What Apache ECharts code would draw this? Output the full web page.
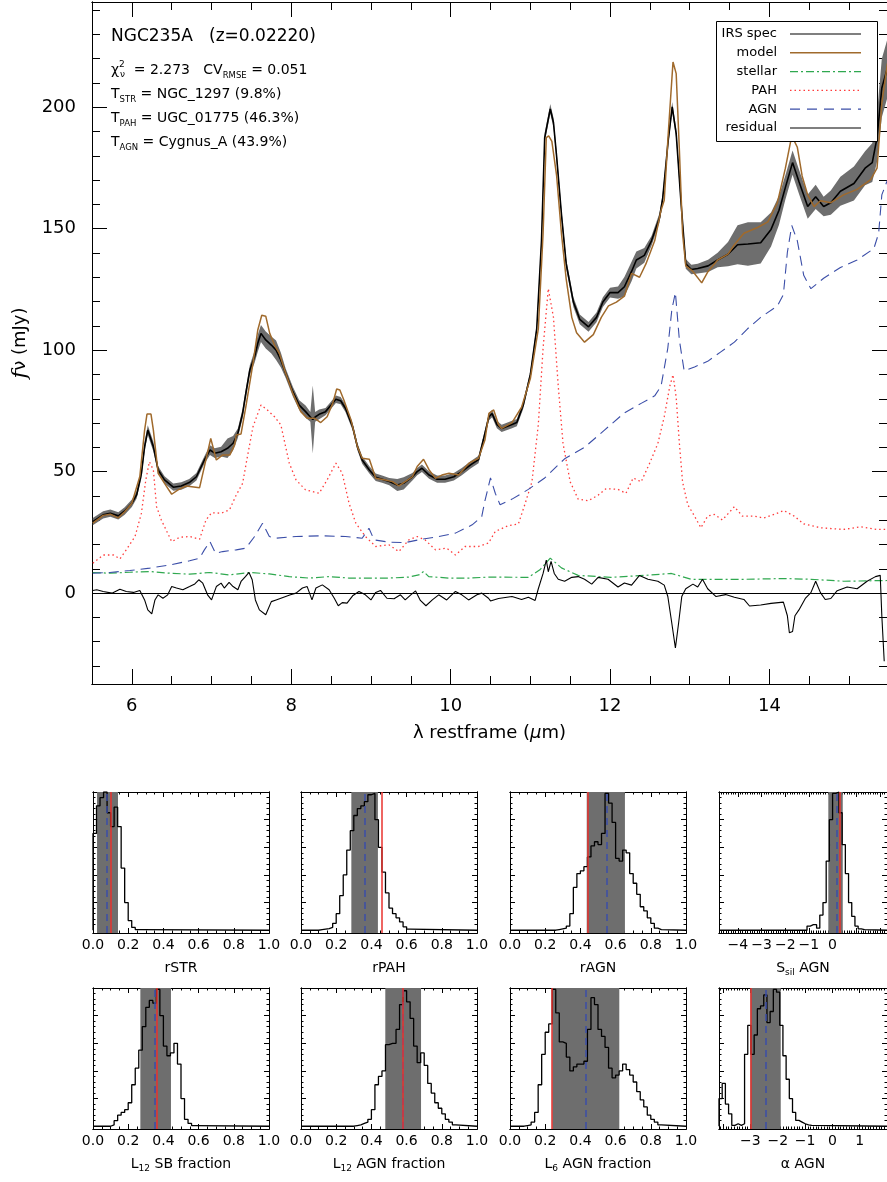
<!DOCTYPE html>
<html>
<head>
<meta charset="utf-8">
<title>NGC235A decomposition</title>
<script src="https://cdn.jsdelivr.net/npm/echarts@6/dist/echarts.min.js"></script>
<style>
  html, body { margin: 0; padding: 0; background: #fff; }
  #chart { width: 887px; height: 1182px; }
</style>
</head>
<body>
<div id="chart"></div>
<script>
// ---- IRS spectrum, restframe micron / mJy ----
var specLam = [5.51,5.64,5.73,5.83,5.91,6.00,6.06,6.12,6.16,6.20,
  6.27,6.33,6.41,6.52,6.62,6.72,6.81,6.91,6.98,7.04,
  7.12,7.20,7.27,7.33,7.39,7.43,7.48,7.54,7.58,7.62,
  7.68,7.75,7.81,7.87,7.93,8.02,8.10,8.18,8.24,8.27,8.30,8.35,
  8.43,8.50,8.56,8.62,8.68,8.77,8.83,8.89,8.98,9.06,
  9.14,9.23,9.33,9.41,9.52,9.58,9.64,9.73,9.83,9.93,
  10.04,10.14,10.25,10.35,10.41,10.48,10.52,10.58,10.64,10.77,
  10.83,10.91,11.00,11.08,11.14,11.18,11.25,11.29,11.33,11.39,
  11.45,11.54,11.62,11.73,11.83,11.91,12.00,12.10,12.18,12.27,
  12.33,12.43,12.52,12.62,12.66,12.73,12.78,12.83,12.89,12.95,
  13.02,13.10,13.23,13.35,13.48,13.60,13.73,13.89,14.02,14.12,
  14.20,14.29,14.37,14.48,14.58,14.68,14.77,14.89,15.06,15.20,
  15.29,15.35,15.41,15.48];
var specFlux = [29.4,32.2,32.9,31.8,33.8,37.0,40.4,49.3,60.3,67.1,
  60.3,50.7,46.6,43.6,44.1,45.5,47.9,54.8,58.9,57.6,
  58.2,59.6,61.7,65.8,74.0,82.2,91.8,97.3,102.8,106.9,
  104.2,102.1,100.0,95.9,90.5,82.9,77.4,74.7,72.5,71.5,72.5,73.6,
  74.7,77.4,79.8,79.2,76.1,68.5,60.3,54.8,50.7,47.7,
  46.9,45.9,44.5,45.2,47.9,50.0,51.4,48.6,46.9,46.9,
  47.9,50.0,52.8,55.0,63.0,72.6,73.9,69.4,67.8,69.4,
  70.2,77.3,89.9,108.8,145.0,187.5,199.3,193.7,179.6,156.0,
  135.5,119.8,112.7,109.6,113.5,119.8,123.7,123.7,126.1,132.4,
  137.1,139.0,145.0,154.4,162.3,186.4,200.1,189.1,161.0,135.5,
  133.2,133.6,134.7,137.1,139.5,143.4,143.7,144.2,149.7,157.6,
  167.0,177.2,169.4,159.1,163.1,159.1,160.7,165.4,168.6,174.9,
  177.2,187.5,207.9,216.0];
var specErr = [1.5,1.5,1.5,1.5,1.5,1.5,1.5,2,2,2,
  2,1.5,1.5,1.5,1.5,1.5,1.5,1.5,2,2,
  2,4,3,2,2,2,2,2.5,3.5,3.5,
  3.5,3.5,4,3,2,2,2,2.5,2,14,2,2,
  1.5,1.5,1.5,1.5,1.5,1.5,1.5,1.5,1.5,1.5,
  1.5,1.5,2.5,2.5,1.5,1.5,1.5,1.5,1.5,1.5,
  1.5,1.5,1.5,1.5,1.5,1.5,1.5,1.5,1.5,1.5,
  1.5,1.5,1.5,1.5,2,2,2,2,2,2,
  2,2,2,2,2,2,2,2.5,4,4,
  3.5,3,2,2,2,2,2,2,2,2,
  2,2,2.5,3,5,8,9,8.5,7,6,
  5,5,5,5,5,4,5,6,7,7,
  8,10,12,12];

// ---- best fit model and its components ----
var modelLam = [5.51,5.64,5.73,5.83,5.91,6.00,6.10,6.16,6.19,6.24,6.27,6.33,6.41,6.50,6.58,6.68,6.85,6.91,6.99,7.06,
  7.14,7.23,7.29,7.31,7.37,7.43,7.52,7.58,7.63,7.68,7.73,7.79,7.85,7.93,8.02,8.12,8.20,8.29,8.37,8.45,
  8.52,8.57,8.61,8.66,8.75,8.83,8.89,8.98,9.06,9.18,9.27,9.35,9.43,9.52,9.58,9.66,9.73,9.81,9.89,9.98,
  10.10,10.23,10.35,10.43,10.48,10.54,10.60,10.64,10.77,10.89,11.00,11.10,11.16,11.20,11.23,11.27,11.33,11.39,11.45,11.52,
  11.58,11.68,11.79,11.89,11.98,12.08,12.18,12.27,12.37,12.45,12.56,12.64,12.68,12.73,12.79,12.83,12.87,12.91,12.95,13.04,
  13.15,13.23,13.35,13.48,13.56,13.68,13.85,13.98,14.10,14.20,14.28,14.35,14.41,14.48,14.56,14.64,14.77,14.93,15.10,15.27,
  15.35,15.41,15.48];
var modelFlux = [28.8,32.0,32.5,31.0,33.5,37.0,48.0,67.1,73.7,73.7,67.1,49.3,45.2,40.7,42.5,44.1,43.4,52.1,63.7,54.8,
  56.9,56.9,61.0,65.1,65.5,76.7,94.6,108.3,114.4,114.0,106.9,102.1,98.7,90.5,82.2,74.7,72.0,72.0,70.2,72.6,
  78.1,84.0,83.6,79.5,71.3,60.3,55.5,55.1,47.3,46.6,45.9,44.1,45.9,47.9,52.1,55.1,50.7,47.3,48.6,49.3,
  48.6,53.5,55.5,63.0,74.0,75.4,69.4,67.8,70.2,76.5,88.3,108.8,148.1,187.5,188.2,185.9,171.7,148.1,129.2,113.5,
  107.2,103.3,106.4,113.5,118.2,119.8,122.2,131.6,130.0,135.5,145.0,157.6,161.7,189.1,218.6,213.8,182.3,148.0,134.7,132.4,
  127.7,132.4,137.1,139.5,143.4,148.1,150.5,152.8,160.7,174.9,188.2,183.5,171.7,163.9,159.1,161.5,160.7,163.9,166.2,170.2,
  174.9,201.6,218.0];

var stellarLam = [5.51,5.725,5.975,6.225,6.475,6.725,6.975,7.225,7.475,7.725,7.975,8.225,8.475,8.725,8.975,9.225,9.475,9.60,9.66,9.725,
  9.975,10.225,10.475,10.975,11.12,11.25,11.39,11.60,12.01,12.43,12.77,13.02,13.68,14.18,14.52,14.93,15.48];
var stellarFlux = [8.5,8.2,8.6,8.9,8.2,7.8,8.5,7.5,8.5,7.9,6.8,6.2,6.8,6.2,6.2,6.2,6.6,7.5,8.9,6.8,
  6.2,6.2,6.6,6.5,9.6,14.4,10.4,7.3,6.5,7.3,8.1,5.7,5.7,6.0,5.7,4.9,5.2];

var pahLam = [5.51,5.64,5.77,5.85,5.93,6.04,6.12,6.175,6.22,6.27,6.31,6.37,6.50,6.60,6.725,6.85,6.93,7.00,7.12,7.225,
  7.31,7.39,7.45,7.52,7.62,7.70,7.79,7.87,7.975,8.06,8.18,8.35,8.45,8.56,8.64,8.725,8.81,8.93,9.06,9.225,
  9.35,9.475,9.58,9.68,9.81,9.95,10.06,10.18,10.35,10.475,10.56,10.725,10.85,10.93,11.02,11.10,11.16,11.225,11.29,11.35,
  11.41,11.50,11.60,11.725,11.85,11.95,12.10,12.20,12.29,12.39,12.50,12.60,12.68,12.75,12.79,12.83,12.87,12.91,12.975,13.06,
  13.14,13.225,13.31,13.41,13.56,13.66,13.81,13.93,14.06,14.18,14.31,14.43,14.64,14.93,15.14,15.35,15.48];
var pahFlux = [12.3,15.7,15.7,14.1,17.8,23.3,32.9,46.6,54.1,50.7,35.6,30.1,21.2,23.0,23.3,22.2,30.1,33.1,32.9,34.3,
  40.4,45.2,56.2,68.5,77.4,75.4,72.6,69.2,53.5,46.6,42.5,41.1,46.6,53.5,49.3,37.0,28.8,23.3,19.2,19.9,
  17.1,21.9,23.3,21.9,17.8,18.5,15.7,19.2,19.2,20.6,25.4,27.8,28.5,36.4,45.8,69.4,100.9,125.3,113.5,85.2,
  61.6,45.8,38.7,38.0,40.3,43.0,42.7,41.1,47.4,45.8,53.7,61.6,72.6,85.2,89.9,80.5,61.6,45.8,36.4,31.7,
  26.9,31.7,32.4,30.1,35.6,31.7,31.7,30.9,32.4,34.0,31.7,28.5,26.9,26.2,27.3,26.2,26.2];

var agnLam = [5.51,5.725,5.975,6.225,6.475,6.725,6.85,6.91,6.98,7.05,7.14,7.31,7.43,7.54,7.64,7.725,7.81,8.06,8.39,8.68,
  8.89,8.975,9.04,9.225,9.43,9.64,9.85,10.06,10.27,10.39,10.43,10.50,10.56,10.62,10.77,10.975,11.18,11.43,11.68,11.93,
  12.18,12.39,12.56,12.64,12.725,12.775,12.82,12.87,12.93,13.06,13.225,13.39,13.56,13.725,13.89,14.10,14.175,14.225,14.28,14.35,
  14.43,14.52,14.68,14.89,15.10,15.31,15.37,15.41,15.48];
var agnFlux = [8.2,8.5,9.3,10.3,11.6,13.3,14.4,17.8,21.2,16.4,17.1,17.8,18.5,23.3,28.8,23.3,22.6,23.3,23.6,23.3,
  22.6,26.7,21.9,21.0,20.8,22.2,23.3,24.7,28.1,31.5,38.0,47.4,41.1,36.4,38.7,42.7,47.4,55.3,60.0,67.1,
  74.2,78.1,81.2,85.2,100.9,116.6,123.7,104.1,91.5,93.1,95.4,99.3,103.3,108.8,113.5,118.2,122.9,140.3,151.3,145.0,
  130.8,125.3,129.6,134.0,137.1,141.8,148.1,163.9,170.0];

var resLam = [5.51,5.56,5.64,5.75,5.85,5.93,6.02,6.10,6.16,6.20,6.25,6.29,6.33,6.39,6.45,6.50,6.56,6.64,6.725,6.79,
  6.84,6.89,6.95,7.00,7.06,7.12,7.16,7.22,7.27,7.33,7.37,7.425,7.47,7.51,7.55,7.60,7.68,7.75,7.81,7.87,
  7.93,7.99,8.06,8.14,8.20,8.26,8.31,8.39,8.475,8.54,8.59,8.64,8.70,8.77,8.85,8.93,9.00,9.06,9.12,9.20,
  9.29,9.37,9.43,9.50,9.56,9.62,9.69,9.77,9.85,9.95,10.06,10.14,10.225,10.33,10.39,10.475,10.50,10.60,10.77,10.89,
  10.975,11.06,11.10,11.16,11.20,11.225,11.26,11.30,11.35,11.43,11.52,11.60,11.68,11.77,11.85,11.975,12.10,12.18,12.27,12.37,
  12.475,12.60,12.68,12.725,12.775,12.82,12.86,12.90,12.95,13.04,13.10,13.16,13.225,13.33,13.45,13.56,13.68,13.75,13.89,14.02,
  14.175,14.225,14.25,14.29,14.32,14.37,14.45,14.52,14.58,14.64,14.70,14.77,14.85,14.975,15.10,15.225,15.33,15.39,15.41,15.44];
var resFlux = [1.1,1.4,0.7,0,1.6,0.7,0.3,1.1,-2.8,-6.9,-8.5,-2.8,-0.7,-2.1,-0.7,2.7,2.1,1.4,2.7,3.8,
  5.5,4.1,-0.7,-2.8,2.7,4.1,2.1,4.4,2.7,1.4,4.8,6.8,8.5,5.5,-2.8,-6.9,-8.9,-3.5,-2.8,-2.1,
  -1.4,-0.7,0,2.1,2.7,-2.8,2.1,3.4,1.4,-2.1,-5.2,-3.9,-4.1,-1.1,0.7,-0.7,-2.8,0.3,1.1,-2.1,
  -2.3,-0.7,-2.8,-0.7,0.9,-3.0,-5.2,-2.8,-0.7,-2.8,0.7,-0.7,-2.8,-0.7,0,-2.1,-3.2,-2.2,-1.4,-2.6,
  -1.7,-3.0,1.8,8.1,13.6,8.8,13.1,8.1,5.7,4.9,6.5,6.8,5.7,3.7,6.5,5.7,2.5,4.2,3.3,7.3,
  5.7,4.9,3.3,-1.4,-12.4,-22.6,-12.4,-1.4,1.8,3.7,2.5,5.7,1.8,-1.4,-0.6,-1.7,-2.6,-5.3,-4.9,-4.2,
  -3.7,-9.3,-16.3,-15.8,-9.3,-6.9,-2.2,0.2,4.9,0.2,-2.6,-2.2,1.0,2.5,1.8,4.9,6.8,7.3,-9.3,-28.0];

var xTickLabels = [6, 8, 10, 12, 14];
var yTickLabels = [0, 50, 100, 150, 200];

// ---- posterior histograms (peak normalised to 1) ----
var rstrCounts = [0.70,0.90,0.96,1.00,0.85,0.75,0.89,0.75,0.45,0.20,0.07,0.02,0.005];
var rpahCounts = [0.004,0.008,0.012,0.02,0.05,0.12,0.25,0.40,0.58,0.72,0.83,0.88,0.90,0.93,0.98,0.99,0.80,0.60,0.42,0.27,0.16,0.12,0.09,0.06,0.025,0.008];
var ragnCounts = [0.005,0.01,0.015,0.03,0.12,0.31,0.41,0.43,0.46,0.53,0.61,0.64,0.62,0.70,0.99,0.92,0.78,0.52,0.50,0.58,0.56,0.41,0.34,0.26,0.17,0.14,0.09,0.05,0.015,0.005];
var ssilCounts = [0.03,0.04,0.04,0.015,0.11,0.20,0.50,0.80,0.99,1.00,0.85,0.62,0.41,0.20,0.10,0.03,0.01,0.005];
var l12sbCounts = [0.01,0.04,0.08,0.10,0.12,0.17,0.30,0.42,0.55,0.72,0.86,0.91,0.89,0.99,0.80,0.58,0.51,0.53,0.60,0.45,0.20,0.05,0.02,0.005];
var l12agnCounts = [0.005,0.01,0.02,0.03,0.05,0.12,0.30,0.36,0.40,0.59,0.60,0.60,0.70,0.88,0.98,0.90,0.78,0.58,0.46,0.53,0.44,0.31,0.24,0.17,0.13,0.09,0.05,0.03,0.01];
var l6agnCounts = [0.005,0.01,0.03,0.10,0.30,0.52,0.68,0.74,0.99,0.82,0.61,0.60,0.50,0.40,0.43,0.45,0.45,0.47,0.70,0.93,0.88,0.70,0.65,0.57,0.42,0.35,0.37,0.40,0.45,0.41,0.37,0.32,0.25,0.19,0.14,0.08,0.05,0.03,0.01];
var alphaCounts = [0.20,0.31,0.16,0.09,0.006,0.018,0.006,0.018,0.52,0.73,0.52,0.66,0.85,0.87,0.95,0.75,0.83,0.99,0.97,0.73,0.51,0.34,0.20,0.10,0.042,0.03,0.018,0.01,0.006];

var histStart = [0.00, 0.10, 0.26, -1.08, 0.10, 0.30, 0.08, -4.15];
var histStep = [0.02, 0.02, 0.02, 0.135, 0.02, 0.02, 0.02, 0.117];
var bandLo = [0.023, 0.286, 0.436, -0.18, 0.269, 0.479, 0.240, -3.00];
var bandHi = [0.142, 0.437, 0.653, 0.43, 0.443, 0.682, 0.621, -1.89];
var medianVal = [0.080, 0.365, 0.545, 0.16, 0.350, 0.578, 0.432, -2.44];
var bestVal = [0.099, 0.464, 0.436, 0.30, 0.365, 0.578, 0.236, -3.00];
var unitTicks = [0, 0.2, 0.4, 0.6, 0.8, 1.0];
var ssilTicks = [-4, -3, -2, -1, 0];
var alphaTicks = [-3, -2, -1, 0, 1];

var FONT = "'DejaVu Sans', 'Liberation Sans', sans-serif";
var C_MODEL = '#a06a2c', C_STR = '#2fa84f', C_PAH = '#ff3b3b', C_AGN = '#3b4ea8', C_BAND = '#6e6e6e';

function pairs(xs, ys) {
    return xs.map(function (x, i) { return [x, ys[i]]; });
}
// multiples of step inside [lo, hi]
function steps(lo, hi, step) {
    var out = [];
    for (var k = Math.ceil(lo / step - 1e-6); k <= Math.floor(hi / step + 1e-6); k++) {
        out.push(+(k * step).toFixed(6));
    }
    return out;
}
function minus(a, b) {
    return a.filter(function (v) {
        return !b.some(function (w) { return Math.abs(w - v) < 1e-6; });
    });
}
// step outline of a histogram, flat at zero outside
function histLine(start, step, counts, lo, hi) {
    var pts = [[lo, 0]];
    counts.forEach(function (c, i) { pts.push([+(start + i * step).toFixed(6), c]); });
    pts.push([+(start + counts.length * step).toFixed(6), 0]);
    pts.push([hi, 0]);
    return pts;
}

// one axis that only carries tick marks (and labels when asked)
function axis(grid, pos, min, max, values, len, extra) {
    var a = {
        type: 'value', gridIndex: grid, position: pos, min: min, max: max,
        axisLine: { show: true, onZero: false, lineStyle: { color: '#000', width: 1 } },
        axisTick: { show: true, inside: true, length: len, customValues: values,
            lineStyle: { color: '#000', width: 1 } },
        axisLabel: { show: false },
        splitLine: { show: false }
    };
    for (var k in extra) { a[k] = extra[k]; }
    return a;
}

var grids = [{ left: 92, top: 2, width: 798, height: 682 }];
var xAxes = [], yAxes = [], series = [];

// ---- main spectrum panel ----
var XMIN = 5.5, XMAX = 5.5 + 798 / 80, YMIN = -37.4, YMAX = 243.3;
var xMinor = minus(steps(XMIN, XMAX, 0.5), xTickLabels);
var yMinor = minus(steps(YMIN, YMAX, 10), yTickLabels);
xAxes.push(axis(0, 'bottom', XMIN, XMAX, xTickLabels, 15, {
    axisLabel: { show: true, customValues: xTickLabels, fontSize: 18, fontFamily: FONT, color: '#000', margin: 13 },
    name: '{n|λ restframe (}{it|μ}{n|m)}', nameLocation: 'middle', nameGap: 40,
    nameTextStyle: { rich: {
        n: { fontSize: 18, fontFamily: FONT, color: '#000' },
        it: { fontSize: 18, fontFamily: FONT, fontStyle: 'italic', color: '#000' } } }
}));
xAxes.push(axis(0, 'bottom', XMIN, XMAX, xMinor, 8));
xAxes.push(axis(0, 'top', XMIN, XMAX, xTickLabels, 15));
xAxes.push(axis(0, 'top', XMIN, XMAX, xMinor, 8));
yAxes.push(axis(0, 'left', YMIN, YMAX, yTickLabels, 15, {
    axisLabel: { show: true, customValues: yTickLabels, fontSize: 18, fontFamily: FONT, color: '#000', margin: 16 },
    name: '{it|f}{n|ν (mJy)}', nameLocation: 'middle', nameGap: 52, nameRotate: 90,
    nameTextStyle: { rich: {
        n: { fontSize: 18, fontFamily: FONT, color: '#000' },
        it: { fontSize: 21, fontFamily: "'DejaVu Serif', serif", fontStyle: 'italic', color: '#000' } } }
}));
yAxes.push(axis(0, 'left', YMIN, YMAX, yMinor, 8));
yAxes.push(axis(0, 'right', YMIN, YMAX, yTickLabels, 15));
yAxes.push(axis(0, 'right', YMIN, YMAX, yMinor, 8));

series.push({
    type: 'custom', xAxisIndex: 0, yAxisIndex: 0, z: 1, silent: true, clip: true,
    data: specLam.map(function (x, i) { return [x, specFlux[i] - specErr[i], specFlux[i] + specErr[i]]; }),
    encode: { x: 0, y: [1, 2] },
    renderItem: function (params, api) {
        if (params.dataIndex !== 0) { return; }
        var up = [], down = [];
        for (var i = 0; i < specLam.length; i++) {
            up.push(api.coord([specLam[i], specFlux[i] + specErr[i]]));
            down.unshift(api.coord([specLam[i], specFlux[i] - specErr[i]]));
        }
        return { type: 'polygon', shape: { points: up.concat(down) }, style: { fill: C_BAND } };
    }
});
function curve(name, xs, ys, style, z) {
    return { name: name, type: 'line', xAxisIndex: 0, yAxisIndex: 0, data: pairs(xs, ys),
        symbol: 'none', smooth: false, z: z, silent: true, lineStyle: style };
}
series.push(curve('stellar', stellarLam, stellarFlux, { color: C_STR, width: 1.2, type: [8, 3, 2, 3] }, 2));
series.push(curve('PAH', pahLam, pahFlux, { color: C_PAH, width: 1.3, type: [1.5, 3] }, 2));
series.push(curve('AGN', agnLam, agnFlux, { color: C_AGN, width: 1.1, type: [10, 6] }, 2));
series.push(curve('IRS spec', specLam, specFlux, { color: '#000', width: 1.6 }, 3));
series.push(curve('model', modelLam, modelFlux, { color: C_MODEL, width: 1.5 }, 4));
var resSeries = curve('residual', resLam, resFlux, { color: '#000', width: 1.1 }, 3);
resSeries.markLine = { silent: true, symbol: ['none', 'none'], label: { show: false },
    lineStyle: { color: '#000', width: 1, type: 'solid' }, data: [{ yAxis: 0 }] };
series.push(resSeries);

// ---- posterior panels ----
var panelCounts = [rstrCounts, rpahCounts, ragnCounts, ssilCounts, l12sbCounts, l12agnCounts, l6agnCounts, alphaCounts];
var panelMin = [0, 0, 0, -4.8, 0, 0, 0, -4.15];
var panelMax = [1, 1, 1, 2.3, 1, 1, 1, 2.0];
var panelLabels = [unitTicks, unitTicks, unitTicks, ssilTicks, unitTicks, unitTicks, unitTicks, alphaTicks];
var panelNames = ['{n|rSTR}', '{n|rPAH}', '{n|rAGN}', '{n|S}{s|sil}{n| AGN}',
    '{n|L}{s|12}{n| SB fraction}', '{n|L}{s|12}{n| AGN fraction}', '{n|L}{s|6}{n| AGN fraction}', '{n|α AGN}'];
var panelLeft = [93, 301, 510, 719];
var panelTop = [792, 988];
var HMIN = -0.02, HMAX = 1.0;
var hMajor = [0.2, 0.4, 0.6, 0.8];
var hMinor = minus(steps(0, 1, 0.04), hMajor.concat([0, 1]));

panelCounts.forEach(function (counts, p) {
    var g = p + 1;
    grids.push({ left: panelLeft[p % 4], top: panelTop[Math.floor(p / 4)], width: 176, height: 141 });
    var lo = panelMin[p], hi = panelMax[p];
    var wide = hi - lo > 2;
    var major = wide ? steps(lo, hi, 1) : steps(lo, hi, 0.2);
    var minor = minus(wide ? steps(lo, hi, 0.1) : steps(lo, hi, 0.05), major);
    var xi = xAxes.length, yi = yAxes.length;
    xAxes.push(axis(g, 'bottom', lo, hi, major, 5, {
        axisLabel: { show: true, customValues: panelLabels[p], fontSize: 14, fontFamily: FONT, color: '#000', margin: 5,
            formatter: function (v) { return wide ? String(v).replace('-', '\u2212') : v.toFixed(1); } },
        name: panelNames[p], nameLocation: 'middle', nameGap: 26,
        nameTextStyle: { rich: {
            n: { fontSize: 14, fontFamily: FONT, color: '#000', lineHeight: 18 },
            s: { fontSize: 9, fontFamily: FONT, color: '#000', verticalAlign: 'bottom' } } }
    }));
    xAxes.push(axis(g, 'bottom', lo, hi, minor, 2.5));
    xAxes.push(axis(g, 'top', lo, hi, major, 5));
    xAxes.push(axis(g, 'top', lo, hi, minor, 2.5));
    yAxes.push(axis(g, 'left', HMIN, HMAX, hMajor, 5));
    yAxes.push(axis(g, 'left', HMIN, HMAX, hMinor, 2.5));
    yAxes.push(axis(g, 'right', HMIN, HMAX, hMajor, 5));
    yAxes.push(axis(g, 'right', HMIN, HMAX, hMinor, 2.5));

    series.push({
        type: 'custom', xAxisIndex: xi, yAxisIndex: yi, z: 1, silent: true, clip: true,
        data: [[bandLo[p], bandHi[p]]],
        renderItem: function (params, api) {
            var a = api.coord([bandLo[p], HMAX]);
            var b = api.coord([bandHi[p], HMIN]);
            return { type: 'rect', shape: { x: a[0], y: a[1], width: b[0] - a[0], height: b[1] - a[1] },
                style: { fill: C_BAND } };
        }
    });
    series.push({
        type: 'line', xAxisIndex: xi, yAxisIndex: yi, step: 'end', symbol: 'none', silent: true, z: 2,
        data: histLine(histStart[p], histStep[p], counts, lo, hi),
        lineStyle: { color: '#000', width: 1.3 },
        markLine: { silent: true, symbol: ['none', 'none'], label: { show: false }, z: 5,
            data: [
                { xAxis: medianVal[p], lineStyle: { color: C_AGN, width: 1.5, type: [7, 5] } },
                { xAxis: bestVal[p], lineStyle: { color: '#e8322e', width: 1.5, type: 'solid' } }
            ] }
    });
});

// ---- annotation and legend ----
var txtRich = {
    a: { fontSize: 14, fontFamily: FONT, color: '#000', lineHeight: 20 },
    s: { fontSize: 8.5, fontFamily: FONT, color: '#000', verticalAlign: 'bottom' },
    p: { fontSize: 9, fontFamily: FONT, color: '#000', verticalAlign: 'top' }
};
function label(x, y, text, size, align) {
    return { type: 'text', x: x, y: y, z: 100, silent: true,
        style: { text: text, rich: txtRich, font: size + 'px ' + FONT, fill: '#000',
            align: align || 'left', textAlign: align || 'left', verticalAlign: 'middle', textVerticalAlign: 'middle' } };
}
var graphics = [
    label(111, 37, 'NGC235A   (z=0.02220)', 17),
    label(111, 70, '{a|χ}{p|2}{a|  = 2.273   CV}{s|RMSE}{a| = 0.051}', 14),
    label(120, 75, 'ν', 9),
    label(111, 94, '{a|T}{s|STR}{a| = NGC_1297 (9.8%)}', 14),
    label(111, 118, '{a|T}{s|PAH}{a| = UGC_01775 (46.3%)}', 14),
    label(111, 142, '{a|T}{s|AGN}{a| = Cygnus_A (43.9%)}', 14),
    { type: 'rect', z: 90, silent: true, shape: { x: 716.5, y: 21.5, width: 161, height: 120 },
        style: { fill: '#fff', stroke: '#000', lineWidth: 1 } }
];
var legendNames = ['IRS spec', 'model', 'stellar', 'PAH', 'AGN', 'residual'];
var legendStyles = [
    { stroke: '#000', lineWidth: 1.2 },
    { stroke: C_MODEL, lineWidth: 1.4 },
    { stroke: C_STR, lineWidth: 1.3, lineDash: [8, 3, 2, 3] },
    { stroke: C_PAH, lineWidth: 1.3, lineDash: [1.5, 3] },
    { stroke: C_AGN, lineWidth: 1.2, lineDash: [10, 7] },
    { stroke: '#000', lineWidth: 1.2 }
];
legendNames.forEach(function (n, i) {
    var y = 34 + i * 18.8;
    graphics.push(label(777, y, n, 13, 'right'));
    graphics.push({ type: 'line', z: 100, silent: true, shape: { x1: 790, y1: y, x2: 861, y2: y },
        style: legendStyles[i] });
});

var chart = echarts.init(document.getElementById('chart'));
chart.setOption({
    animation: false,
    backgroundColor: '#fff',
    grid: grids,
    xAxis: xAxes,
    yAxis: yAxes,
    series: series,
    graphic: graphics
});
</script>
</body>
</html>
